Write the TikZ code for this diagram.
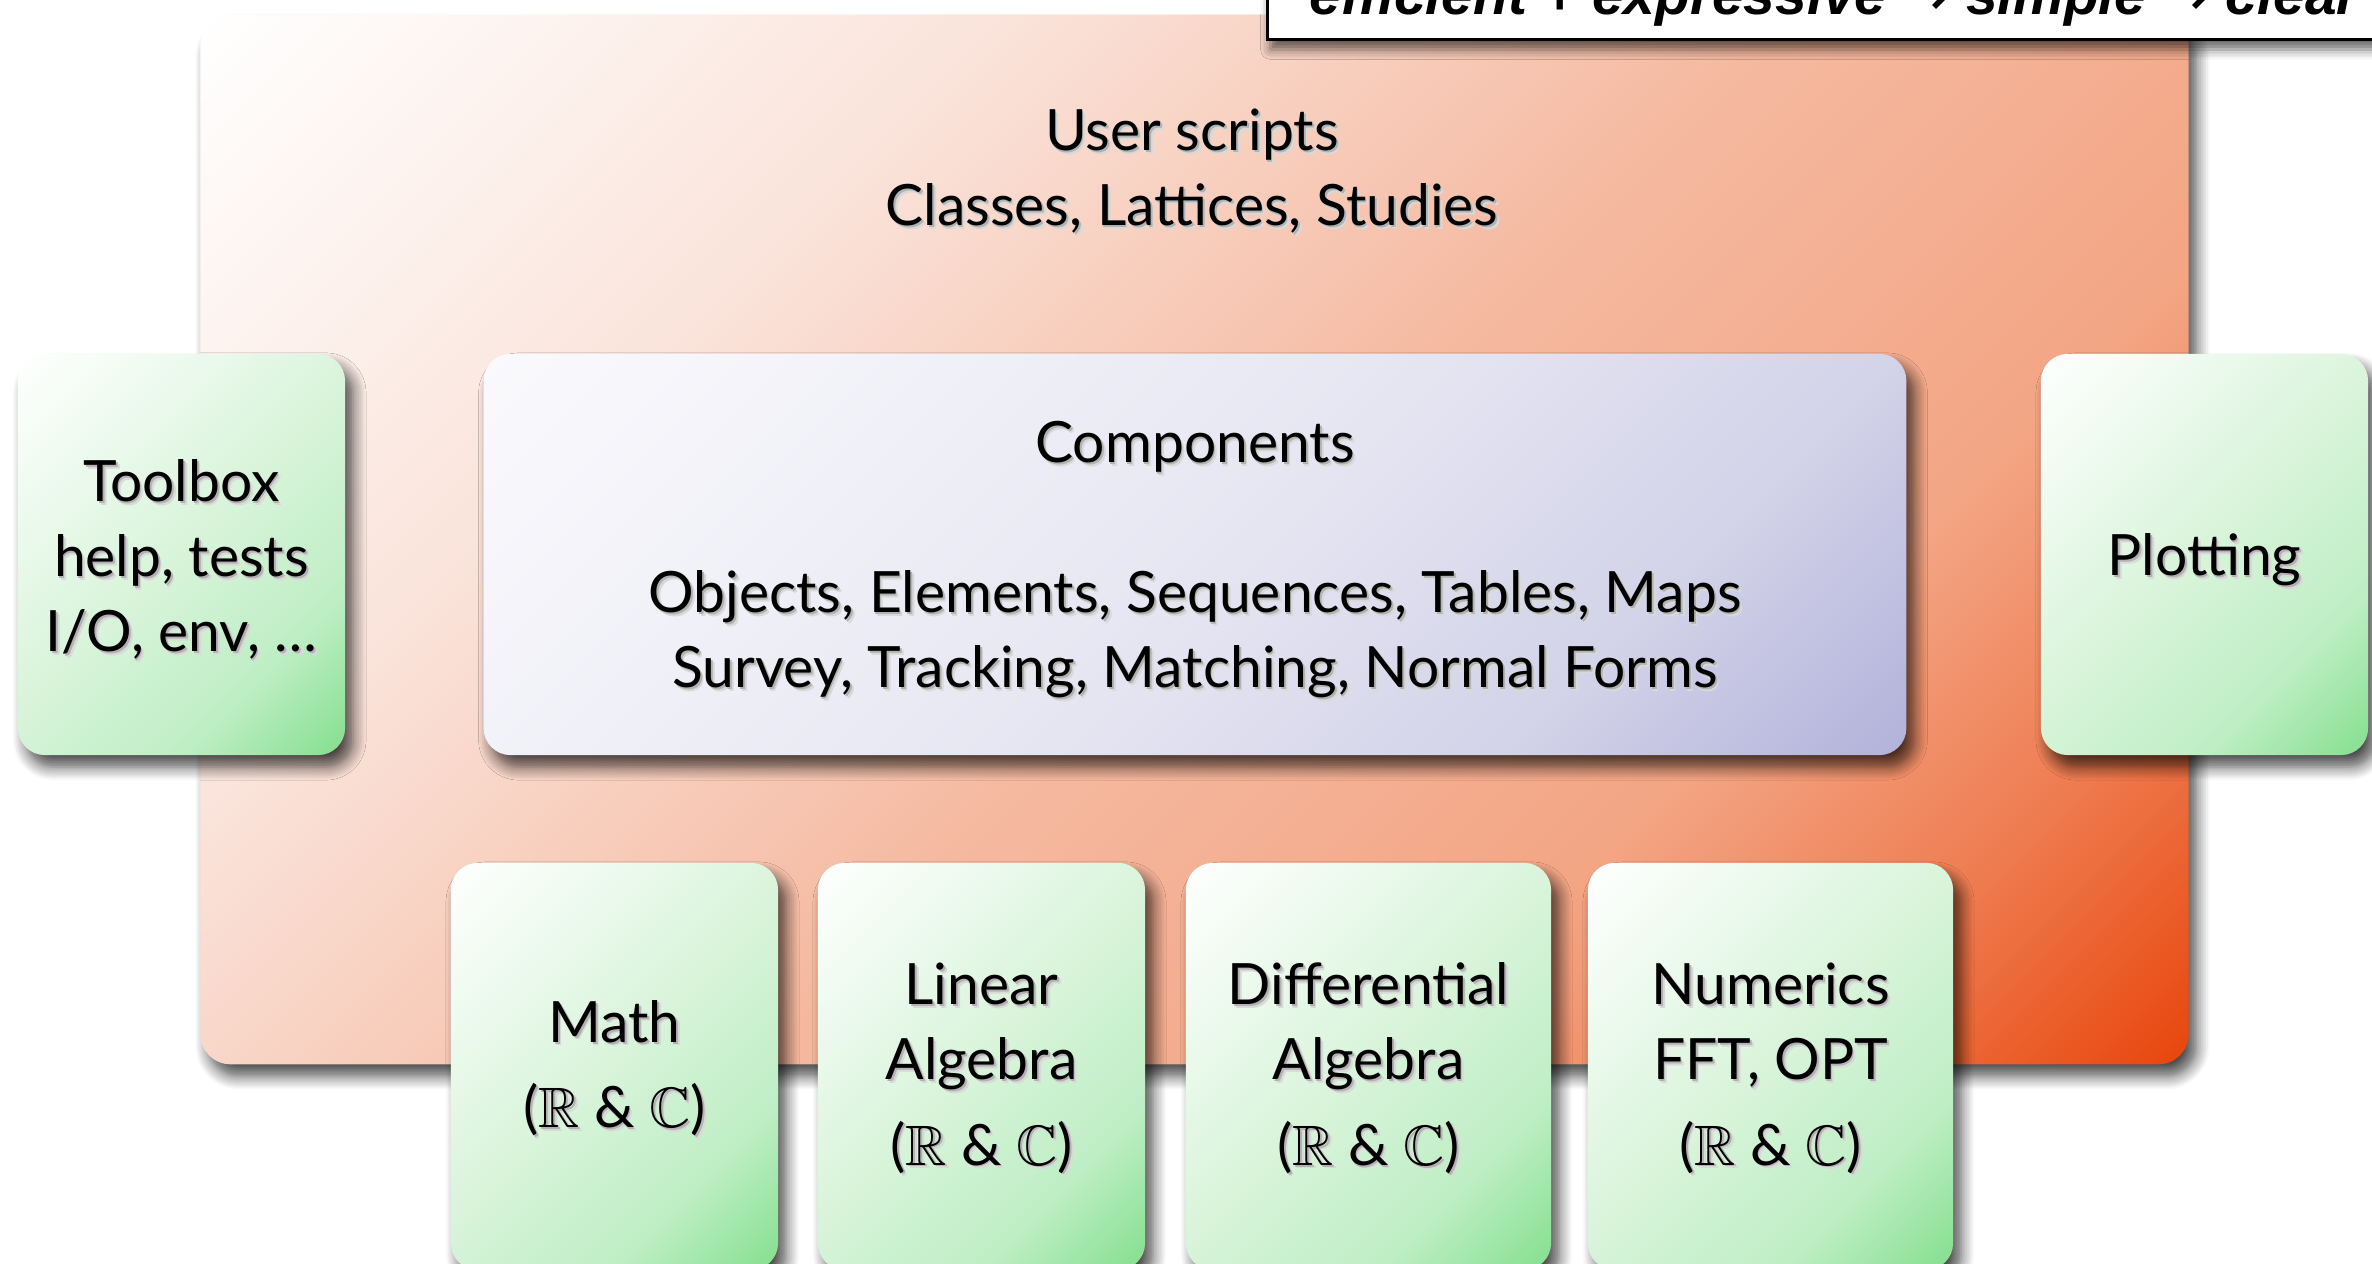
\documentclass[tikz,border=0pt]{standalone}
\usepackage{amsmath,amssymb}
\usepackage{fontspec}
\setmainfont{Lato}
\newfontfamily\mottofont{Liberation Sans}
\newfontfamily\arrowfont{DejaVu Sans}
\usetikzlibrary{shadows.blur}

\definecolor{orA}{HTML}{FAE3DA}
\definecolor{orB}{HTML}{F5B9A0}
\definecolor{orC}{HTML}{F3A584}
\definecolor{orD}{HTML}{EE7A4E}
\definecolor{orE}{HTML}{E8460C}
\definecolor{grA}{HTML}{D8F4DA}
\definecolor{grB}{HTML}{BEEEC4}
\definecolor{grC}{HTML}{84DF8E}
\definecolor{blA}{HTML}{FAFAFD}
\definecolor{blB}{HTML}{E7E7F3}
\definecolor{blC}{HTML}{D3D3E9}
\definecolor{blD}{HTML}{B2B2DB}

\pgfdeclarehorizontalshading{orangeshade}{100bp}{color(0bp)=(white); color(14.6bp)=(white);
  color(33.6bp)=(orA); color(51.6bp)=(orB); color(67bp)=(orC); color(76.6bp)=(orD);
  color(85.4bp)=(orE); color(100bp)=(orE)}
\pgfdeclarehorizontalshading{greenshade}{100bp}{color(0bp)=(white); color(14.6bp)=(white);
  color(49.6bp)=(grA); color(69.6bp)=(grB); color(85.4bp)=(grC); color(100bp)=(grC)}
\pgfdeclarehorizontalshading{blueshade}{100bp}{color(0bp)=(blA); color(14.6bp)=(blA);
  color(49.6bp)=(blB); color(69.6bp)=(blC); color(85.4bp)=(blD); color(100bp)=(blD)}

% text with a soft shadow
\newcommand\shtxt[1]{\rlap{\hspace{1pt}\raisebox{-1pt}{\textcolor{black!15}{#1}}}%
  \rlap{\hspace{.5pt}\raisebox{-.5pt}{\textcolor{black!30}{#1}}}#1}
\newcommand\RC{($\mathbb{R}$ \& $\mathbb{C}$)}

\begin{document}
\begin{tikzpicture}[x=0.01cm, y=-0.01cm,
    box/.style={rounded corners=0.27cm, inner sep=0pt, shade, shading angle=-45,
      blur shadow={shadow xshift=0.08cm, shadow yshift=-0.12cm, shadow blur radius=0.13cm,
        shadow blur steps=8, shadow opacity=70}},
    bigbox/.style={box, shading=orangeshade, rounded corners=0.3cm},
    compbox/.style={box, shading=blueshade},
    greenbox/.style={box, shading=greenshade, minimum width=3.27cm, minimum height=4.01cm},
    lowbox/.style={greenbox, minimum height=4.07cm},
    mottobox/.style={draw=black, line width=0.9pt, fill=white, inner sep=0pt,
      blur shadow={shadow xshift=0.03cm, shadow yshift=-0.1cm, shadow blur radius=0.1cm, shadow opacity=60}},
    boxtext/.style={align=center, inner sep=0pt, yshift=-2pt, font=\fontsize{16.2}{21.3}\selectfont},
    lowtext/.style={boxtext, yshift=1pt}]
  \useasboundingbox (0,0) rectangle (2372,1264);
  \clip (0,0) rectangle (2372,1264);

  \node[bigbox, minimum width=19.87cm, minimum height=10.49cm] (scripts) at (1194.5,539.5) {};
  \node[boxtext] (scriptstxt) at (1192,166) {\shtxt{User scripts}\\\shtxt{Classes, Lattices, Studies}};

  \node[mottobox, anchor=south west, minimum width=12cm, minimum height=2cm] (motto) at (1266,41) {};
  \node[anchor=base west, inner sep=0pt, font=\mottofont\bfseries\itshape\fontsize{16.2}{19}\selectfont]
    (mottotxt) at (1309,15) {efficient + expressive {\arrowfont ⇢} simple {\arrowfont ⇢} clear};

  \node[greenbox] (toolbox) at (181.5,554.5) {};
  \node[compbox, minimum width=14.22cm, minimum height=4.01cm] (comp) at (1195,554.5) {};
  \node[greenbox] (plot) at (2204.5,554.5) {};
  \node[lowbox] (math) at (614.5,1066.5) {};
  \node[lowbox] (linalg) at (981.5,1066.5) {};
  \node[lowbox, minimum width=3.65cm] (diffalg) at (1368.5,1066.5) {};
  \node[lowbox, minimum width=3.65cm] (numerics) at (1770.5,1066.5) {};

  \node[boxtext] (toolboxtxt) at (toolbox.center) {\shtxt{Toolbox}\\\shtxt{help, tests}\\\shtxt{I/O, env, \dots}};
  \node[boxtext] (comptxt) at (comp.center)
    {\shtxt{Components}\\[21.3pt]\shtxt{Objects, Elements, Sequences, Tables, Maps}\\
     \shtxt{Survey, Tracking, Matching, Normal Forms}};
  \node[boxtext] (plottxt) at (plot.center) {\shtxt{Plotting}};
  \node[lowtext] (mathtxt) at (math.center) {\shtxt{Math}\\[3pt]\shtxt{\RC}};
  \node[lowtext] (linalgtxt) at (linalg.center) {\shtxt{Linear}\\\shtxt{Algebra}\\[3pt]\shtxt{\RC}};
  \node[lowtext] (diffalgtxt) at (diffalg.center) {\shtxt{Differential}\\\shtxt{Algebra}\\[3pt]\shtxt{\RC}};
  \node[lowtext] (numericstxt) at (numerics.center) {\shtxt{Numerics}\\\shtxt{FFT, OPT}\\[3pt]\shtxt{\RC}};
\end{tikzpicture}
\end{document}
